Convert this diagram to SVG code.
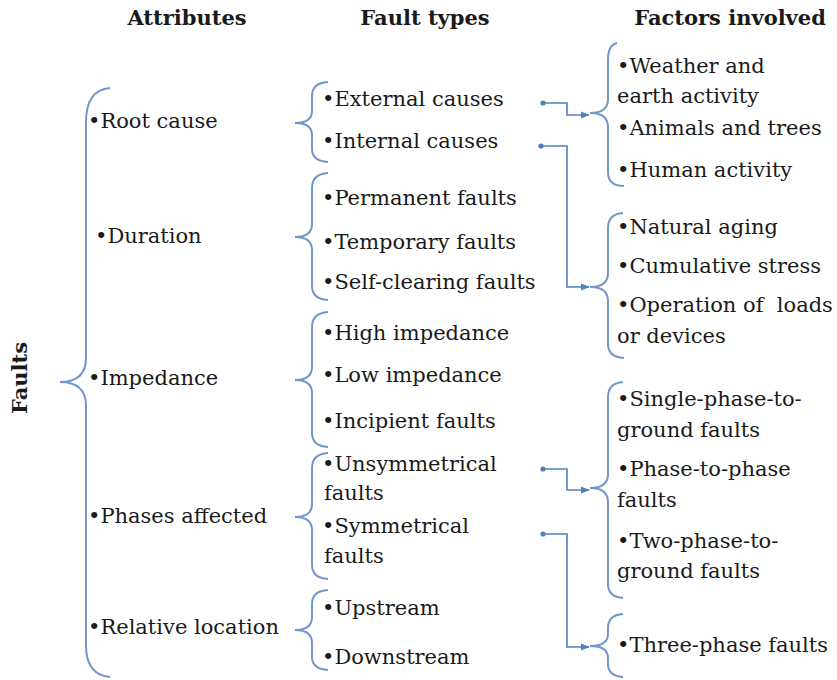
<svg xmlns="http://www.w3.org/2000/svg" width="837" height="680" viewBox="0 0 837 680">
<style>
.t{font-family:"DejaVu Serif","Liberation Serif",serif;font-size:21px;fill:#1a1a1a}
.h{font-family:"DejaVu Serif","Liberation Serif",serif;font-size:21px;font-weight:bold;fill:#1a1a1a}
.b{fill:none;stroke:#7396cb;stroke-width:2}
.c{fill:none;stroke:#4f81bd;stroke-width:1.6;marker-start:url(#dot);marker-end:url(#arr)}
</style>
<defs>
<marker id="dot" viewBox="0 0 6 6" refX="3" refY="3" markerWidth="6" markerHeight="6" markerUnits="userSpaceOnUse"><circle cx="3" cy="3" r="2.6" fill="#4f81bd"/></marker>
<marker id="arr" viewBox="0 0 10 10" refX="9" refY="5" markerWidth="9" markerHeight="9" markerUnits="userSpaceOnUse" orient="auto"><path d="M0,1 L10,5 L0,9 Z" fill="#4f81bd"/></marker>
</defs>
<rect width="837" height="680" fill="#ffffff"/>
<g id="headers">
<text class="h" x="187" y="25" text-anchor="middle">Attributes</text>
<text class="h" x="425" y="25" text-anchor="middle">Fault types</text>
<text class="h" x="730" y="25" text-anchor="middle">Factors involved</text>
</g>
<g id="faults">
<text class="h" transform="translate(27,378) rotate(-90)" text-anchor="middle">Faults</text>
<path class="b" d="M110,88 Q86,90 86,122 V358 Q86,382 60,382 Q86,382 86,406 V645 Q86,675 110,677"/>
</g>
<g id="attributes">
<text class="t" x="88" y="128">•Root cause</text>
<text class="t" x="95" y="243">•Duration</text>
<text class="t" x="88" y="385">•Impedance</text>
<text class="t" x="88" y="523">•Phases affected</text>
<text class="t" x="88" y="634">•Relative location</text>
</g>
<g id="root-cause">
<path class="b" d="M328,82 Q312,83 312,96 V111 Q312,123 295,123 Q312,123 312,135 V149 Q312,161 328,162"/>
<text class="t" x="322" y="106">•External causes</text>
<text class="t" x="322" y="148">•Internal causes</text>
</g>
<g id="duration">
<path class="b" d="M328,173 Q312,174 312,188 V224 Q312,237 295,237 Q312,237 312,250 V286 Q312,299 328,300"/>
<text class="t" x="322" y="205">•Permanent faults</text>
<text class="t" x="322" y="249">•Temporary faults</text>
<text class="t" x="322" y="289">•Self-clearing faults</text>
</g>
<g id="impedance">
<path class="b" d="M328,312 Q312,313 312,327 V367 Q312,380 295,380 Q312,380 312,393 V433 Q312,446 328,447"/>
<text class="t" x="322" y="340">•High impedance</text>
<text class="t" x="322" y="382">•Low impedance</text>
<text class="t" x="322" y="428">•Incipient faults</text>
</g>
<g id="phases">
<path class="b" d="M328,453 Q312,454 312,468 V504 Q312,517 295,517 Q312,517 312,530 V565 Q312,578 328,579"/>
<text class="t" x="322" y="471">•Unsymmetrical</text>
<text class="t" x="324" y="500">faults</text>
<text class="t" x="322" y="533">•Symmetrical</text>
<text class="t" x="324" y="563">faults</text>
</g>
<g id="location">
<path class="b" d="M328,590 Q312,591 312,604 V617 Q312,630 295,630 Q312,630 312,643 V657 Q312,669 328,670"/>
<text class="t" x="322" y="615">•Upstream</text>
<text class="t" x="322" y="664">•Downstream</text>
</g>
<g id="external-factors">
<path class="b" d="M617,43 Q608,45 608,60 V99 Q608,113 590,113 Q608,113 608,127 V172 Q608,186 624,186"/>
<text class="t" x="617" y="73">•Weather and</text>
<text class="t" x="617" y="103">earth activity</text>
<text class="t" x="617" y="135">•Animals and trees</text>
<text class="t" x="617" y="177">•Human activity</text>
</g>
<g id="internal-factors">
<path class="b" d="M623,213 Q608,214 608,228 V273 Q608,287 590,287 Q608,287 608,301 V344 Q608,357 624,358"/>
<text class="t" x="617" y="234">•Natural aging</text>
<text class="t" x="617" y="273">•Cumulative stress</text>
<text class="t" x="617" y="312" xml:space="preserve" style="white-space:pre">•Operation of  loads</text>
<text class="t" x="617" y="343">or devices</text>
</g>
<g id="unsym-factors">
<path class="b" d="M623,382 Q608,383 608,397 V474 Q608,488 590,488 Q608,488 608,502 V584 Q608,597 623,598"/>
<text class="t" x="617" y="406">•Single-phase-to-</text>
<text class="t" x="617" y="437">ground faults</text>
<text class="t" x="617" y="476">•Phase-to-phase</text>
<text class="t" x="617" y="507">faults</text>
<text class="t" x="617" y="548">•Two-phase-to-</text>
<text class="t" x="617" y="578">ground faults</text>
</g>
<g id="sym-factors">
<path class="b" d="M623,614 Q608,615 608,628 V634 Q608,646 590,646 Q608,646 608,658 V664 Q608,676 623,677"/>
<text class="t" x="617" y="652">•Three-phase faults</text>
</g>
<g id="connectors">
<path class="c" d="M543,103 H567 V115 H589"/>
<path class="c" d="M541,146 H567 V287 H589"/>
<path class="c" d="M543,469 H567 V490 H589"/>
<path class="c" d="M543,534 H567 V647 H589"/>
</g>
</svg>
